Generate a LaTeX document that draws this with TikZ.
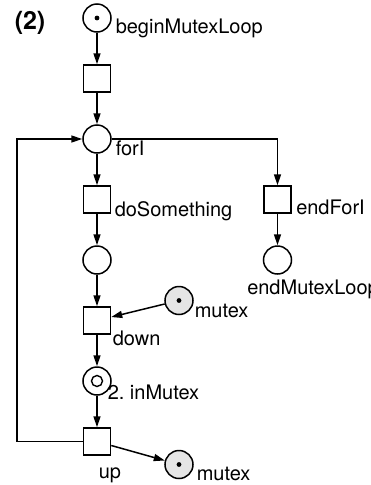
\documentclass[tikz,border=0pt]{standalone}
\usepackage{fontspec}
\setmainfont{TeX Gyre Heros}
\usetikzlibrary{arrows.meta,positioning}

\begin{document}
\begin{tikzpicture}[
    x=1pt, y=-1pt,
    font=\fontsize{20}{23}\selectfont,
    line width=1.5pt,
    place/.style={draw, circle, minimum size=28pt, inner sep=0pt, fill=white},
    marked/.style={place, path picture={\fill[black] (path picture bounding box.center) circle (2.4pt);}},
    shared/.style={marked, fill=black!10},
    ring/.style={place, path picture={\draw[black, line width=1.4pt] (path picture bounding box.center) circle (5.5pt);}},
    trans/.style={draw, rectangle, minimum size=27pt, inner sep=0pt},
    lbl/.style={anchor=base west, inner sep=0pt},
    arc/.style={-{Triangle[length=11pt, width=7pt]}}
  ]
  \useasboundingbox (0,0) rectangle (371,485);
  \node[font=\bfseries\fontsize{25}{28}\selectfont, anchor=base west, inner sep=0pt] (num) at (14,29) {(2)};
  % main column
  \node[marked] (begin) at (97,18) {};
  \node[trans, below=31.5pt of begin] (t0) {};
  \node[place, below=31.5pt of t0] (fori) {};
  \node[trans, below=31.5pt of fori] (dosth) {};
  \node[place, below=31.5pt of dosth] (p2) {};
  \node[trans, below=31.5pt of p2] (down) {};
  \node[ring, below=31.5pt of down] (inmutex) {};
  \node[trans, below=31.5pt of inmutex] (up) {};
  % exit branch
  \node[trans, right=152pt of dosth] (endfor) {};
  \node[place, below=31.5pt of endfor] (endloop) {};
  % semaphore
  \node[shared] (mutex1) at ([xshift=82pt, yshift=20pt]down) {};
  \node[shared] (mutex2) at ([xshift=82pt, yshift=-23pt]up) {};
  \coordinate (loopx) at (17,0);

  % names
  \node[lbl] (lbegin) at ([xshift=18pt, yshift=-15pt]begin) {beginMutexLoop};
  \node[lbl] (lfori) at ([xshift=18pt, yshift=-16pt]fori) {forI};
  \node[lbl] (ldosth) at ([xshift=17pt, yshift=-17pt]dosth) {doSomething};
  \node[lbl] (lendfor) at ([xshift=18pt, yshift=-15pt]endfor) {endForI};
  \node[lbl] (lendloop) at ([xshift=-31pt, yshift=-34pt]endloop) {endMutexLoop};
  \node[lbl] (ldown) at ([xshift=15pt, yshift=-25pt]down) {down};
  \node[lbl] (lmutex1) at ([xshift=15pt, yshift=-17pt]mutex1) {mutex};
  \node[lbl] (linmutex) at ([xshift=10pt, yshift=-18pt]inmutex) {2.\ inMutex};
  \node[lbl] (lup) at ([xshift=1pt, yshift=-37pt]up) {up};
  \node[lbl] (lmutex2) at ([xshift=17pt, yshift=-16pt]mutex2) {mutex};

  \draw[arc] (begin) -- (t0);
  \draw[arc] (t0) -- (fori);
  \draw[arc] (fori) -- (dosth);
  \draw[arc] (fori) -| (endfor);
  \draw[arc] (endfor) -- (endloop);
  \draw[arc] (dosth) -- (p2);
  \draw[arc] (p2) -- (down);
  \draw[arc] (mutex1) -- (down);
  \draw[arc] (down) -- (inmutex);
  \draw[arc] (inmutex) -- (up);
  \draw[arc] (up) -- (mutex2);
  \draw[arc] (up) -- (up -| loopx) |- (fori);
\end{tikzpicture}
\end{document}
